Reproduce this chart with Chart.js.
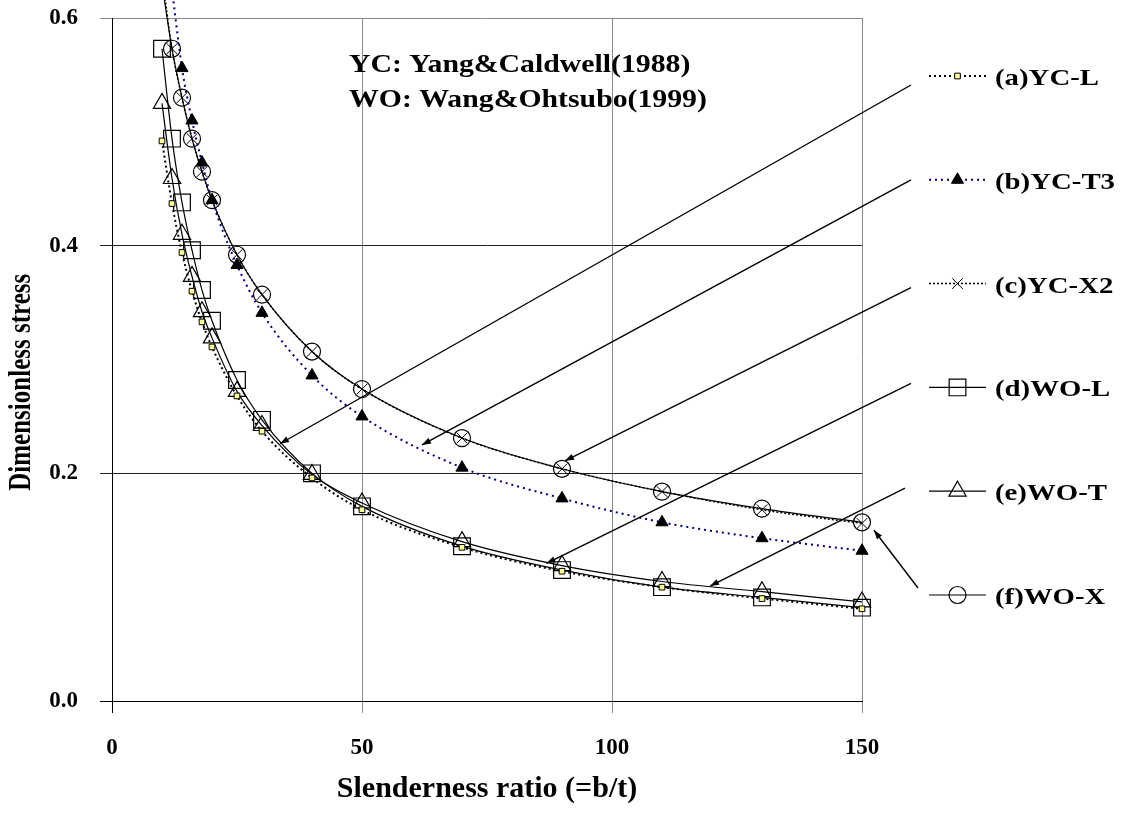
<!DOCTYPE html>
<html>
<head>
<meta charset="utf-8">
<script src="https://cdn.jsdelivr.net/npm/chart.js@4.4.1/dist/chart.umd.min.js"></script>
<style>
  html, body { margin: 0; padding: 0; background: #fff; }
  #plot { display: block; }
</style>
</head>
<body>
<canvas id="plot" width="1122" height="814"></canvas>
<script>
// --- DATA ---
const slenderness = [10, 12, 14, 16, 18, 20, 25, 30, 40, 50, 70, 90, 110, 130, 150];

// Yang & Caldwell (1988)
const ycL  = [0.492, 0.437, 0.394, 0.360, 0.333, 0.311, 0.268, 0.237, 0.196, 0.168, 0.135, 0.114, 0.100, 0.090, 0.081];
const ycT3 = [null, 0.625, 0.556, 0.510, 0.473, 0.440, 0.383, 0.341, 0.286, 0.250, 0.205, 0.178, 0.157, 0.143, 0.132];
const ycX2 = [0.638, 0.573, 0.530, 0.494, 0.465, 0.440, 0.392, 0.357, 0.307, 0.274, 0.231, 0.204, 0.184, 0.168, 0.156];
// Wang & Ohtsubo (1999)
const woL = [0.573, 0.494, 0.438, 0.396, 0.361, 0.334, 0.282, 0.247, 0.200, 0.171, 0.136, 0.115, 0.100, 0.091, 0.082];
const woT = [0.525, 0.459, 0.410, 0.373, 0.342, 0.319, 0.272, 0.242, 0.199, 0.174, 0.140, 0.119, 0.105, 0.096, 0.087];
const woX = [0.630, 0.573, 0.530, 0.494, 0.465, 0.440, 0.392, 0.357, 0.307, 0.274, 0.231, 0.204, 0.184, 0.169, 0.157];

const seriesLabels = ['(a)YC-L', '(b)YC-T3', '(c)YC-X2', '(d)WO-L', '(e)WO-T', '(f)WO-X'];
const noteLines = ['YC: Yang&Caldwell(1988)', 'WO: Wang&Ohtsubo(1999)'];
const yAxisTitle = 'Dimensionless stress';

// where each legend arrow points to (slenderness, stress)
const arrowTipX = [33.6, 62.0, 90.6, 86.9, 119.6, 152.4];
const arrowTipY = [0.226, 0.225, 0.211, 0.121, 0.101, 0.150];

const xTicks = [0, 50, 100, 150];
const yTicks = [0, 0.2, 0.4, 0.6];

// --- STYLES ---
const FONT = '"Liberation Serif", "Times New Roman", serif';
const Y_MAX = 0.6;

const looks = [
    { color: '#000',    width: 2,   dash: [2, 3], style: 'rect',      r: 4,    fill: '#ffff99', edge: '#000', edgeW: 1 },
    { color: '#000080', width: 2,   dash: [2, 4], style: 'triangle',  r: 7,    fill: '#000',    edge: '#000', edgeW: 1 },
    { color: '#000',    width: 1.5, dash: [2, 2], style: 'crossRot',  r: 7.5,  fill: '#000',    edge: '#000', edgeW: 1 },
    { color: '#000',    width: 1.2, dash: [],     style: 'rect',      r: 11.8, fill: 'rgba(0,0,0,0)', edge: '#000', edgeW: 1.2 },
    { color: '#000',    width: 1.2, dash: [],     style: 'triangle',  r: 10,   fill: 'rgba(0,0,0,0)', edge: '#000', edgeW: 1.2 },
    { color: '#000',    width: 1.2, dash: [],     style: 'circle',    r: 8.5,  fill: 'rgba(0,0,0,0)', edge: '#000', edgeW: 1.2 }
];

function toPoints(values) {
    return slenderness.map((x, i) => ({ x: x, y: values[i] })).filter(p => p.y != null);
}

const allSeries = [ycL, ycT3, ycX2, woL, woT, woX];

const datasets = allSeries.map((vals, i) => {
    const lk = looks[i];
    return {
        label: seriesLabels[i],
        data: toPoints(vals),
        borderColor: lk.color,
        borderWidth: lk.width,
        borderDash: lk.dash,
        cubicInterpolationMode: 'monotone',
        fill: false,
        clip: false,
        pointStyle: lk.style,
        // Excel hides markers above the axis maximum but keeps the line
        pointRadius: c => (c.raw && c.raw.y > Y_MAX ? 0 : lk.r),
        pointHoverRadius: c => (c.raw && c.raw.y > Y_MAX ? 0 : lk.r),
        pointBackgroundColor: lk.fill,
        pointBorderColor: lk.edge,
        pointBorderWidth: lk.edgeW
    };
});

// text drawn a little wider than the font, as in the original figure
function wideText(ctx, text, x, y, sx) {
    ctx.save();
    ctx.translate(x, y);
    ctx.scale(sx, 1);
    ctx.fillText(text, 0, 0);
    ctx.restore();
}

const overlay = {
    id: 'overlay',
    afterDraw(chart, args, opts) {
        const { ctx } = chart;
        const xs = chart.scales.x, ys = chart.scales.y;
        ctx.save();
        ctx.fillStyle = '#000';
        ctx.textAlign = 'left';
        ctx.textBaseline = 'alphabetic';

        // note inside the plot
        ctx.font = 'bold 25px ' + FONT;
        noteLines.forEach((t, i) => {
            wideText(ctx, t, xs.getPixelForValue(opts.noteX), ys.getPixelForValue(opts.noteY[i]), 1.19);
        });

        // y axis title (rotated, glyphs a bit wider across)
        ctx.save();
        ctx.translate(opts.yTitleLeft, ys.getPixelForValue(opts.yTitleAt));
        ctx.rotate(-Math.PI / 2);
        ctx.scale(1, 1.3);
        ctx.textAlign = 'center';
        ctx.textBaseline = 'middle';
        ctx.fillText(yAxisTitle, 0, 0);
        ctx.restore();

        // legend column with arrows
        looks.forEach((lk, i) => {
            const rowY = opts.legendTop + i * opts.legendStep;

            ctx.save();
            ctx.strokeStyle = lk.color;
            ctx.lineWidth = lk.width;
            ctx.setLineDash(lk.dash);
            ctx.beginPath();
            ctx.moveTo(opts.sampleLeft, rowY);
            ctx.lineTo(opts.sampleLeft + opts.sampleLen, rowY);
            ctx.stroke();
            ctx.restore();

            ctx.save();
            ctx.fillStyle = lk.fill;
            ctx.strokeStyle = lk.edge;
            ctx.lineWidth = lk.edgeW;
            Chart.helpers.drawPoint(ctx, { pointStyle: lk.style, radius: lk.r, rotation: 0, borderWidth: lk.edgeW },
                opts.sampleLeft + opts.sampleLen / 2, rowY);
            ctx.restore();

            ctx.fillStyle = '#000';
            ctx.font = 'bold 24px ' + FONT;
            wideText(ctx, seriesLabels[i], opts.textLeft, rowY + 9, 1.2);

            // arrow from the legend entry to its curve
            const x0 = opts.arrowFrom[i][0], y0 = rowY + opts.arrowFrom[i][1];
            const x1 = xs.getPixelForValue(arrowTipX[i]), y1 = ys.getPixelForValue(arrowTipY[i]);
            const ang = Math.atan2(y1 - y0, x1 - x0);
            ctx.strokeStyle = '#000';
            ctx.lineWidth = 1.4;
            ctx.beginPath();
            ctx.moveTo(x0, y0);
            ctx.lineTo(x1, y1);
            ctx.stroke();
            ctx.beginPath();
            ctx.moveTo(x1, y1);
            ctx.lineTo(x1 - 9 * Math.cos(ang) + 3.2 * Math.sin(ang), y1 - 9 * Math.sin(ang) - 3.2 * Math.cos(ang));
            ctx.lineTo(x1 - 9 * Math.cos(ang) - 3.2 * Math.sin(ang), y1 - 9 * Math.sin(ang) + 3.2 * Math.cos(ang));
            ctx.closePath();
            ctx.fill();
        });
        ctx.restore();
    }
};

const tickFont = { family: FONT, size: 23, weight: 'bold' };

new Chart(document.getElementById('plot'), {
    type: 'line',
    data: { datasets: datasets },
    plugins: [overlay],
    options: {
        responsive: false,
        animation: false,
        events: [],
        layout: { padding: { left: 0, top: 18, right: 260, bottom: 0 } },
        plugins: {
            legend: { display: false },
            tooltip: { enabled: false },
            overlay: {
                noteX: 47.4,
                noteY: [0.553, 0.522],
                yTitleLeft: 22,
                yTitleAt: 0.28,
                legendTop: 76,
                legendStep: 103.8,
                sampleLeft: 929,
                sampleLen: 57,
                textLeft: 995,
                arrowFrom: [[911, 9], [911, 0], [911, 4], [911, -4], [905, -3], [918, -7]]
            }
        },
        scales: {
            x: {
                type: 'linear',
                min: 0,
                max: 150,
                afterBuildTicks: s => { s.ticks = xTicks.map(v => ({ value: v })); },
                afterFit: s => { s.height = 113; s.paddingLeft = 0; s.paddingRight = 0; },
                grid: {
                    color: c => (c.tick && c.tick.value === 0 ? '#000' : '#8a8a8a'),
                    lineWidth: 1,
                    tickLength: 12
                },
                border: { color: '#000', width: 1 },
                ticks: { padding: 21, font: tickFont, color: '#000', maxRotation: 0 },
                title: {
                    display: true,
                    text: 'Slenderness ratio (=b/t)',
                    color: '#000',
                    font: { family: FONT, size: 30, weight: 'bold' },
                    padding: { top: 0, bottom: 7 }
                }
            },
            y: {
                type: 'linear',
                min: 0,
                max: Y_MAX,
                afterBuildTicks: s => { s.ticks = yTicks.map(v => ({ value: v })); },
                // fixed axis width, and no extra room for the top label
                afterFit: s => { s.width = 112; s.paddingTop = 0; s.paddingBottom = 0; },
                grid: {
                    color: c => {
                        if (!c.tick) return '#222';
                        if (c.tick.value === 0) return '#000';
                        if (c.tick.value === Y_MAX) return '#8a8a8a';
                        return '#222';
                    },
                    lineWidth: 1,
                    tickLength: 12
                },
                border: { color: '#000', width: 1 },
                ticks: { padding: 22, font: tickFont, color: '#000', callback: v => v.toFixed(1) },
                // title is drawn by the overlay plugin
                title: { display: false }
            }
        }
    }
});
</script>
</body>
</html>
